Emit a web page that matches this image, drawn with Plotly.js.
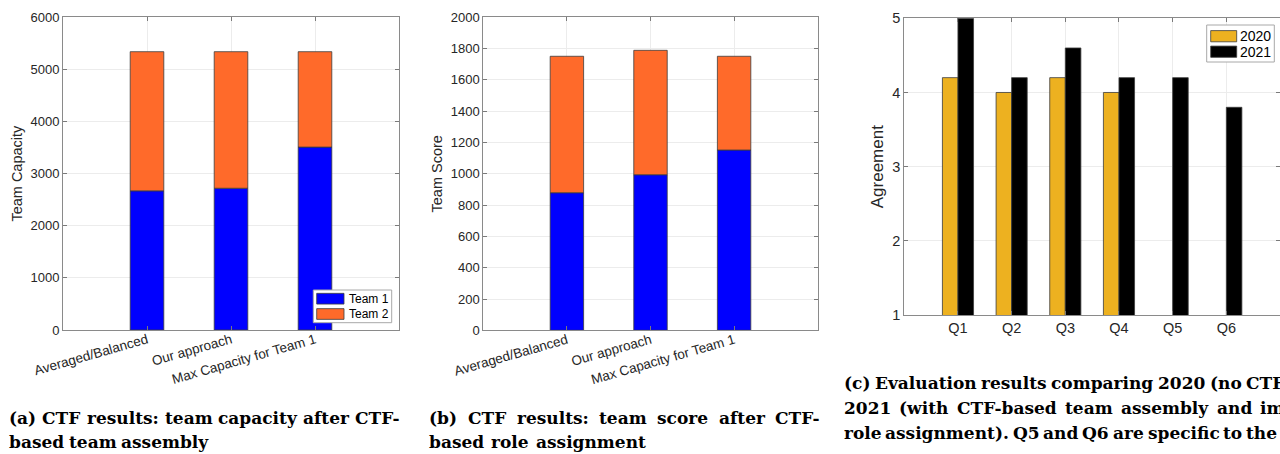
<!DOCTYPE html>
<html>
<head>
<meta charset="utf-8">
<script src="https://cdn.plot.ly/plotly-3.0.1.min.js"></script>
<style>
  html, body { margin: 0; padding: 0; background: #ffffff; }
  #chart { width: 1280px; height: 454px; }
</style>
</head>
<body>
<div id="chart"></div>
<script>
// ---------------- DATA ----------------
const categories = ['Averaged/Balanced', 'Our approach', 'Max Capacity for Team 1'];
const capacityTeam1 = [2670, 2720, 3510];
const capacityTeam2 = [2670, 2620, 1830];
const scoreTeam1 = [879, 994, 1152];
const scoreTeam2 = [872, 795, 599];
const questions = ['Q1', 'Q2', 'Q3', 'Q4', 'Q5', 'Q6'];
const agreement2020 = [4.2, 4.0, 4.2, 4.0, null, null];
const agreement2021 = [5.0, 4.2, 4.6, 4.2, 4.2, 3.8];
const seriesNames = ['Team 1', 'Team 2'];
const yearNames = ['2020', '2021'];

// ---------------- STYLE ----------------
const W = 1280, H = 454;
const px = v => v / W;
const py = v => 1 - v / H;
const BLUE = '#0000FF', ORANGE = '#FF6A2A', GOLD = '#EDB120', BLACK = '#000000';
const EDGE = {color: '#3c3c3c', width: 0.8};
const SANS = 'Liberation Sans, Arial, Helvetica, sans-serif';
const TXT = '#262626';

const traces = [
  {type: 'bar', x: categories, y: capacityTeam1, name: seriesNames[0], xaxis: 'x', yaxis: 'y',
   width: 0.4, marker: {color: BLUE, line: EDGE}},
  {type: 'bar', x: categories, y: capacityTeam2, base: capacityTeam1, name: seriesNames[1], xaxis: 'x', yaxis: 'y',
   width: 0.4, marker: {color: ORANGE, line: EDGE}},
  {type: 'bar', x: categories, y: scoreTeam1, name: seriesNames[0], xaxis: 'x2', yaxis: 'y2',
   width: 0.4, marker: {color: BLUE, line: EDGE}},
  {type: 'bar', x: categories, y: scoreTeam2, base: scoreTeam1, name: seriesNames[1], xaxis: 'x2', yaxis: 'y2',
   width: 0.4, marker: {color: ORANGE, line: EDGE}},
  {type: 'bar', x: questions, y: agreement2020, name: yearNames[0], xaxis: 'x3', yaxis: 'y3',
   width: 0.29, offset: -0.29, marker: {color: GOLD, line: EDGE}},
  {type: 'bar', x: questions, y: agreement2021, name: yearNames[1], xaxis: 'x3', yaxis: 'y3',
   width: 0.29, offset: 0, marker: {color: BLACK, line: EDGE}}
];

function axisBase(extra) {
  return Object.assign({
    showline: true, linecolor: '#8a8a8a', linewidth: 1, mirror: 'ticks',
    ticks: 'inside', ticklen: 4, tickcolor: '#7a7a7a', tickwidth: 1,
    showgrid: true, gridcolor: '#ececec', gridwidth: 1, zeroline: false,
    tickfont: {family: SANS, size: 13, color: TXT}, automargin: false, fixedrange: true
  }, extra);
}

const layout = {
  width: W, height: H,
  margin: {l: 0, r: 0, t: 0, b: 0},
  paper_bgcolor: '#ffffff', plot_bgcolor: '#ffffff',
  barmode: 'overlay',
  showlegend: false,
  xaxis: axisBase({domain: [px(63), px(399)], anchor: 'y', type: 'category', range: [-1, 3], tickangle: -16,
    tickfont: {family: SANS, size: 13.5, color: TXT}, ticklabelstandoff: -4}),
  yaxis: axisBase({domain: [py(330), py(17.3)], anchor: 'x', range: [0, 6000], dtick: 1000,
    title: {text: 'Team Capacity', font: {family: SANS, size: 14.5, color: TXT}, standoff: 4}}),
  xaxis2: axisBase({domain: [px(483.3), px(817.7)], anchor: 'y2', type: 'category', range: [-1, 3], tickangle: -16,
    tickfont: {family: SANS, size: 13.5, color: TXT}, ticklabelstandoff: -4}),
  yaxis2: axisBase({domain: [py(330.3), py(17.3)], anchor: 'x2', range: [0, 2000], dtick: 200,
    title: {text: 'Team Score', font: {family: SANS, size: 14.5, color: TXT}, standoff: 4}}),
  xaxis3: axisBase({domain: [px(904.3), 1], anchor: 'y3', type: 'category', range: [-1, 6],
    tickfont: {family: SANS, size: 14.5, color: TXT}}),
  yaxis3: axisBase({domain: [py(315), py(18.3)], anchor: 'x3', range: [1, 5], dtick: 1,
    tickfont: {family: SANS, size: 14.5, color: TXT},
    title: {text: 'Agreement', font: {family: SANS, size: 17, color: TXT}, standoff: 4}}),
  shapes: [],
  annotations: []
};

// ---------------- LEGENDS (boxed, MATLAB style) ----------------
function addLegend(box, entries, swX, swW, swH, rowsY, textX, fontSize) {
  layout.shapes.push({type: 'rect', xref: 'paper', yref: 'paper',
    x0: px(box[0]), x1: px(box[1]), y0: py(box[3]), y1: py(box[2]),
    line: {color: '#a8a8a8', width: 1}, fillcolor: '#ffffff', layer: 'above'});
  entries.forEach((e, i) => {
    layout.shapes.push({type: 'rect', xref: 'paper', yref: 'paper',
      x0: px(swX), x1: px(swX + swW), y0: py(rowsY[i] + swH / 2), y1: py(rowsY[i] - swH / 2),
      line: {color: '#3c3c3c', width: 0.8}, fillcolor: e.color, layer: 'above'});
    layout.annotations.push({text: e.name, xref: 'paper', yref: 'paper', x: px(textX), y: py(rowsY[i]),
      xanchor: 'left', yanchor: 'middle', showarrow: false,
      font: {family: SANS, size: fontSize, color: '#000'}});
  });
}
addLegend([313.3, 391.7, 290, 322.7],
  [{name: seriesNames[0], color: BLUE}, {name: seriesNames[1], color: ORANGE}],
  316.7, 27.3, 10.7, [298.7, 314], 346.5, 12);
addLegend([1206.7, 1274.3, 25, 62],
  [{name: yearNames[0], color: GOLD}, {name: yearNames[1], color: BLACK}],
  1210.7, 26, 11.2, [36.2, 51.7], 1238, 14);

// ---------------- CAPTIONS (justified word placement) ----------------
const CAP_FONT_SIZE = 17;
const CAP_FAMILY = 'DejaVu Serif';
const ctx = document.createElement('canvas').getContext('2d');
ctx.font = 'bold ' + CAP_FONT_SIZE + 'px "' + CAP_FAMILY + '"';

const captionLines = [
  {y: 418, x0: 7.3,   xLast: 353.3,  text: '(a) CTF results: team capacity after CTF-'},
  {y: 442, x0: 7.3,   xLast: 119.3,  text: 'based team assembly'},
  {y: 418, x0: 427.3, xLast: 773.3,  text: '(b) CTF results: team score after CTF-'},
  {y: 442, x0: 427.3, xLast: 534,    text: 'based role assignment'},
  {y: 383, x0: 841.7, xLast: 1244.3, text: '(c) Evaluation results comparing 2020 (no CTF)'},
  {y: 408, x0: 841.7, xLast: 1258.3, text: '2021 (with CTF-based team assembly and improved'},
  {y: 433, x0: 841.7, xLast: 1244.3, text: 'role assignment). Q5 and Q6 are specific to the'}
];
captionLines.forEach(line => {
  const words = line.text.split(' ');
  const widths = words.map(w => ctx.measureText(w).width);
  let used = 0;
  for (let i = 0; i < words.length - 1; i++) used += widths[i];
  const gap = (line.xLast - line.x0 - used) / (words.length - 1);
  let x = line.x0;
  words.forEach((w, i) => {
    layout.annotations.push({
      text: w, xref: 'paper', yref: 'paper', x: px(x), y: py(line.y),
      xanchor: 'left', yanchor: 'middle', showarrow: false,
      font: {family: CAP_FAMILY + ', serif', size: CAP_FONT_SIZE, color: '#000000', weight: 'bold'}
    });
    x += widths[i] + gap;
  });
});

Plotly.newPlot('chart', traces, layout, {staticPlot: true, displayModeBar: false});
</script>
</body>
</html>
